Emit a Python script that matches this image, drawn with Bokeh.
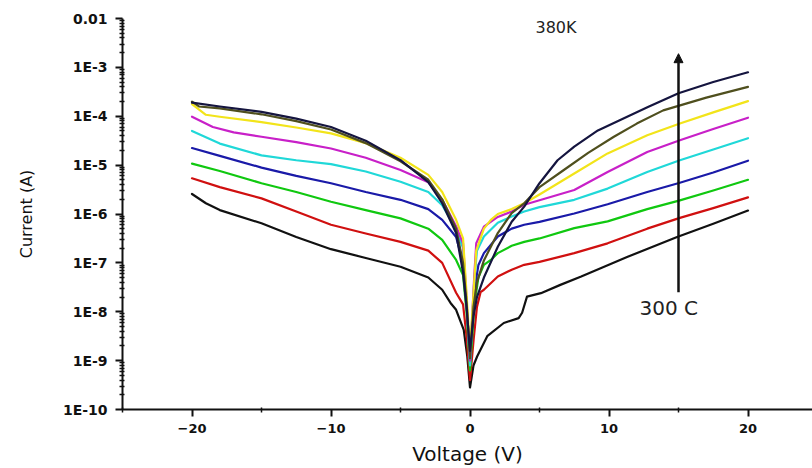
from bokeh.plotting import figure
from bokeh.models import Range1d, FixedTicker, CustomJSTickFormatter, Arrow, NormalHead, Label
from bokeh.embed import file_html
from bokeh.resources import INLINE

# ---- data: voltage (V) and log10 of current (A) ----
v_black = [-20, -19, -18, -15, -12.5, -10, -7.5, -5, -3, -2, -1.4, -1, -0.45, -0.2, 0,
           0.25, 0.52, 1.24, 2.43, 3.5, 3.75, 4.1, 5.1, 6.5, 8, 11.3, 14.9, 17.5, 20]
lg_black = [-5.59, -5.78, -5.92, -6.19, -6.47, -6.72, -6.90, -7.08, -7.3, -7.55, -7.82, -7.96, -8.37, -8.9, -9.55,
            -9.1, -8.91, -8.50, -8.23, -8.13, -8.02, -7.69, -7.62, -7.45, -7.28, -6.88, -6.47, -6.20, -5.93]

v_red = [-20, -18, -15, -12.5, -10, -7.5, -5, -3, -2, -1, -0.5, -0.25, 0,
         0.25, 0.5, 0.76, 1, 2, 3, 3.9, 5, 7.5, 9.9, 12.75, 15.1, 17.5, 20]
lg_red = [-5.27, -5.45, -5.68, -5.95, -6.22, -6.40, -6.57, -6.75, -7.0, -7.61, -7.85, -8.5, -9.4,
          -8.6, -7.9, -7.6, -7.55, -7.28, -7.14, -7.04, -6.98, -6.80, -6.60, -6.30, -6.08, -5.88, -5.66]

v_green = [-20, -18, -15, -12.5, -10, -7.5, -5, -3, -2, -1, -0.5, -0.25, 0,
           0.3, 0.6, 1, 1.5, 2, 3, 3.9, 5, 7.5, 9.9, 12.75, 15.1, 17.5, 20]
lg_green = [-4.97, -5.12, -5.37, -5.55, -5.75, -5.92, -6.09, -6.3, -6.53, -6.94, -7.25, -8.0, -9.2,
            -7.9, -7.3, -7.04, -6.94, -6.8, -6.65, -6.57, -6.5, -6.29, -6.15, -5.90, -5.72, -5.52, -5.30]

v_blue = [-20, -18, -15, -12.5, -10, -7.5, -5, -3, -2, -1, -0.5, -0.25, 0,
          0.3, 0.6, 1, 2, 3, 3.9, 5, 7.5, 9.9, 12.75, 15.1, 17.5, 20]
lg_blue = [-4.65, -4.81, -5.05, -5.22, -5.37, -5.55, -5.71, -5.9, -6.12, -6.47, -7.0, -7.8, -9.0,
           -7.6, -7.05, -6.8, -6.46, -6.3, -6.22, -6.16, -5.99, -5.80, -5.55, -5.36, -5.15, -4.91]

v_cyan = [-20, -18, -15, -12.5, -10, -7.5, -5, -3, -2, -1, -0.5, -0.3, 0,
          0.3, 0.5, 1, 2, 3, 3.9, 5, 7.5, 9.9, 12.75, 15.1, 17.5, 20]
lg_cyan = [-4.30, -4.56, -4.80, -4.90, -4.98, -5.13, -5.34, -5.55, -5.82, -6.3, -6.7, -7.6, -9.1,
           -7.4, -6.75, -6.46, -6.18, -6.05, -5.95, -5.86, -5.71, -5.48, -5.14, -4.90, -4.68, -4.45]

v_magenta = [-20, -18.5, -17, -15, -12.5, -10, -7.5, -5, -3, -2, -1, -0.5, -0.3, 0,
             0.3, 0.45, 1, 2, 3, 3.9, 5, 7.5, 9.9, 12.75, 15.1, 17.5, 20]
lg_magenta = [-4.01, -4.22, -4.33, -4.42, -4.53, -4.66, -4.85, -5.10, -5.35, -5.71, -6.25, -6.6, -7.5, -9.0,
              -7.3, -6.6, -6.26, -6.06, -5.95, -5.81, -5.72, -5.51, -5.14, -4.73, -4.49, -4.26, -4.03]

v_yellow = [-20, -19, -18, -15, -12.5, -10, -7.5, -5, -3, -2, -1, -0.5, -0.3, 0,
            0.3, 0.45, 1, 1.5, 2, 3, 3.9, 5, 7.5, 9.9, 12.75, 15.1, 17.5, 20]
lg_yellow = [-3.75, -3.97, -4.01, -4.12, -4.23, -4.35, -4.55, -4.85, -5.2, -5.55, -6.12, -6.5, -7.4, -8.8,
             -7.4, -6.75, -6.3, -6.12, -6.0, -5.9, -5.78, -5.6, -5.17, -4.76, -4.39, -4.15, -3.92, -3.69]

v_olive = [-20, -19.5, -18, -15, -12.5, -10, -7.5, -5, -3, -2, -1, -0.5, -0.25, 0,
           0.25, 0.5, 1, 2, 3, 3.9, 5, 6.75, 8.5, 10.35, 12, 13.9, 17, 20]
lg_olive = [-3.70, -3.80, -3.84, -3.96, -4.10, -4.27, -4.55, -4.92, -5.3, -5.70, -6.3, -7.0, -7.8, -8.95,
            -7.9, -7.4, -6.95, -6.39, -5.98, -5.78, -5.45, -5.10, -4.75, -4.42, -4.15, -3.88, -3.62, -3.40]

v_navy = [-20, -18, -15, -12.5, -10, -7.5, -5, -3, -2, -1, -0.5, -0.25, 0,
          0.25, 0.5, 1, 2, 3, 3.9, 5, 6.3, 7.5, 9.2, 11, 12.8, 15, 17.5, 20]
lg_navy = [-3.72, -3.80, -3.91, -4.05, -4.22, -4.5, -4.90, -5.35, -5.78, -6.39, -7.2, -7.9, -8.8,
           -8.1, -7.7, -7.3, -6.67, -6.16, -5.85, -5.37, -4.90, -4.62, -4.29, -4.05, -3.81, -3.53, -3.30, -3.10]

x_ticks = [-20, -10, 0, 10, 20]
x_minor = [-25, -15, -5, 5, 15]
y_exponents = [-10, -9, -8, -7, -6, -5, -4, -3, -2]

arrow_v = 15
arrow_lg = [-7.6, -2.72]
top_label = "380K"
bottom_label = "300 C"

series = [
    (v_black, lg_black, "#111111"),
    (v_red, lg_red, "#d01010"),
    (v_green, lg_green, "#10c810"),
    (v_blue, lg_blue, "#1a1aa8"),
    (v_cyan, lg_cyan, "#20d8d8"),
    (v_magenta, lg_magenta, "#c820c8"),
    (v_yellow, lg_yellow, "#f2e41a"),
    (v_olive, lg_olive, "#4f4f1e"),
    (v_navy, lg_navy, "#15153f"),
]

FONT = "DejaVu Sans"

p = figure(width=812, height=468, output_backend="svg", toolbar_location=None,
           y_axis_type="log",
           x_range=Range1d(-25, 24.64), y_range=Range1d(1e-10, 1e-2),
           min_border_left=122, min_border_right=0, min_border_top=18, min_border_bottom=58)
p.outline_line_color = None
p.xgrid.visible = False
p.ygrid.visible = False
p.background_fill_color = "white"
p.border_fill_color = "white"

for v, lg, c in series:
    p.line(v, [10 ** e for e in lg], line_color=c, line_width=2.2,
           line_join="round", line_cap="round")

# axes
xa = p.xaxis[0]
xa.ticker = FixedTicker(ticks=x_ticks, minor_ticks=x_minor)
xa.axis_label = "Voltage (V)"
xa.axis_label_text_font = FONT
xa.axis_label_text_font_style = "normal"
xa.axis_label_text_font_size = "20px"
xa.axis_label_standoff = 6
xa.major_label_text_font = FONT
xa.major_label_text_font_style = "bold"
xa.major_label_text_font_size = "13px"
xa.major_label_standoff = 7

ya = p.yaxis[0]
ya.ticker = FixedTicker(ticks=[10.0 ** e for e in y_exponents],
                        minor_ticks=[m * 10.0 ** e for e in y_exponents[:-1] for m in range(2, 10)])
ya.formatter = CustomJSTickFormatter(code="""
const e = Math.round(Math.log10(tick));
return e == -2 ? '0.01' : '1E' + e;
""")
ya.axis_label = "Current (A)"
ya.axis_label_text_font = FONT
ya.axis_label_text_font_style = "normal"
ya.axis_label_text_font_size = "16px"
ya.axis_label_standoff = 24
ya.major_label_text_font = FONT
ya.major_label_text_font_style = "bold"
ya.major_label_text_font_size = "14px"
ya.major_label_standoff = 8

for ax in (xa, ya):
    ax.axis_line_width = 2
    ax.axis_line_color = "#111111"
    ax.major_tick_line_width = 2
    ax.major_tick_line_color = "#111111"
    ax.minor_tick_line_width = 1.5
    ax.minor_tick_line_color = "#111111"
    ax.major_tick_out = 7
    ax.major_tick_in = 0
    ax.minor_tick_out = 3
    ax.minor_tick_in = 2
    ax.major_label_text_color = "#111111"
    ax.axis_label_text_color = "#111111"

# annotations
p.add_layout(Arrow(end=NormalHead(size=9, fill_color="#111111", line_color="#111111"),
                   x_start=arrow_v, y_start=10 ** arrow_lg[0], x_end=arrow_v, y_end=10 ** arrow_lg[1],
                   line_width=2.5, line_color="#111111"))
p.add_layout(Label(x=4.71, y=10 ** -2.18, text=top_label, text_font=FONT, text_font_size="16px",
                   text_font_style="normal", text_baseline="middle", text_color="#222222"))
p.add_layout(Label(x=12.2, y=10 ** -7.92, text=bottom_label, text_font=FONT, text_font_size="20px",
                   text_font_style="normal", text_baseline="middle", text_color="#222222"))

open("out.html", "w").write(file_html(p, INLINE))
